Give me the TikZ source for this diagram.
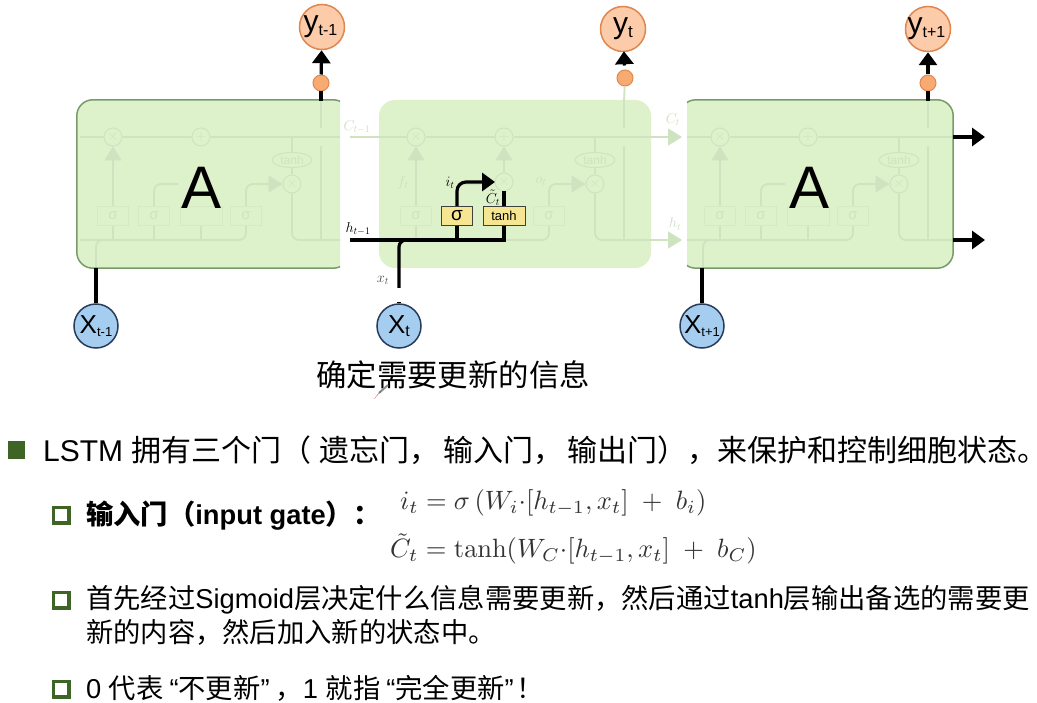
\documentclass[tikz,border=0pt]{standalone}
\usepackage[no-math]{fontspec}
\usepackage{amsmath}
\usepackage{graphicx}
\setmainfont{Liberation Sans}
\newfontfamily\cjk{Noto Sans CJK SC}
\usetikzlibrary{arrows.meta,shapes.geometric}
\definecolor{cellgreen}{RGB}{221,241,203}
\definecolor{celledge}{RGB}{120,155,105}
\definecolor{ghost}{RGB}{206,227,191}
\definecolor{ghosttext}{RGB}{205,222,192}
\definecolor{outorange}{RGB}{251,203,170}
\definecolor{dotorange}{RGB}{248,170,115}
\definecolor{edgeorange}{RGB}{224,135,80}
\definecolor{inblue}{RGB}{165,205,240}
\definecolor{edgeblue}{RGB}{40,60,90}
\definecolor{gateyellow}{RGB}{247,230,145}
\definecolor{bullet}{RGB}{62,100,38}
\tikzset{
  cellbox/.style={fill=cellgreen,rounded corners=16pt,minimum width=#1,minimum height=168pt,inner sep=0pt},
  celledge/.style={draw=celledge,line width=1.5pt,rounded corners=16pt},
  ghostline/.style={draw=ghost,line width=1.8pt,rounded corners=7pt},
  ghostarrow/.style={ghostline,-{Triangle[length=14pt,width=17pt]}},
  ghostdot/.style={circle,draw=ghost,fill=cellgreen,line width=1pt,minimum size=18pt,inner sep=0pt,text=ghost,font=\fontsize{14}{14}\selectfont},
  ghostoval/.style={ellipse,draw=ghost,fill=cellgreen,line width=1pt,minimum width=40pt,minimum height=15pt,inner sep=0pt,text=ghost,font=\fontsize{12}{12}\selectfont},
  ghostbox/.style={draw=ghost!60!cellgreen,fill=cellgreen,line width=1pt,minimum width=31pt,minimum height=19pt,inner sep=0pt,text=ghost,font=\fontsize{15}{15}\selectfont},
  gatebox/.style={draw=black!75,fill=gateyellow,line width=1pt,minimum width=31pt,minimum height=19pt,inner sep=0pt,font=\fontsize{13}{13}\selectfont},
  blackline/.style={draw=black,line width=3.2pt,rounded corners=7pt},
  blackarrow/.style={blackline,-{Triangle[length=13pt,width=18pt]}},
  outcircle/.style={circle,draw=edgeorange,fill=outorange,line width=1.5pt,minimum size=45pt,inner sep=0pt,font=\fontsize{30}{30}\selectfont},
  incircle/.style={circle,draw=edgeblue,fill=inblue,line width=1.5pt,minimum size=44pt,inner sep=0pt,font=\fontsize{26}{26}\selectfont},
  outdot/.style={circle,draw=edgeorange,fill=dotorange,line width=1pt,minimum size=16pt,inner sep=0pt},
  ghostlabel/.style={text=ghosttext,font=\fontsize{14}{14}\selectfont},
  textline/.style={anchor=west,inner sep=0pt,font=\fontsize{27.3}{27.3}\selectfont},
  squarefull/.style={fill=bullet,minimum size=17pt,inner sep=0pt},
  squareopen/.style={draw=bullet,fill=white,line width=3.5pt,minimum size=15.5pt,inner sep=0pt},
}
% inside of one cell, drawn at the place of the left one
\newcommand{\ghostcell}{
  \coordinate (cin) at (80,137);
  \coordinate (cout) at (340,137);
  \coordinate (hin) at (80,240);
  \coordinate (hout) at (340,240);
  \coordinate (xin) at (96,268);
  \coordinate (gateend) at (178,184);
  \coordinate (vlow) at (321,240);
  \coordinate (vgapa) at (321,146);
  \coordinate (vgapb) at (321,128);
  \coordinate (vtop) at (321,101);
  \coordinate (tanhup) at (292,137);
  \node[ghostdot] (mulc) at (113,137) {$\times$};
  \node[ghostdot] (addc) at (201,137) {$+$};
  \node[ghostdot] (mulo) at (292,184) {$\times$};
  \node[ghostoval] (tanho) at (292,160) {tanh};
  \node[ghostbox] (sigf) at (113,216) {σ};
  \node[ghostbox] (sigi) at (154,216) {σ};
  \node[ghostbox,minimum width=42pt] (tanhc) at (201,216) {};
  \node[ghostbox] (sigo) at (246,216) {σ};
  \draw[ghostline] (cin) -- (mulc) -- (addc) -- (cout);
  \draw[ghostline] (hin) -| (sigo.south);
  \draw[ghostarrow] (sigo.north) |- (mulo);
  \draw[ghostarrow] (sigf) -- (mulc);
  \draw[ghostline] (sigf) -- (sigf |- hin);
  \draw[ghostline] (sigi) -- (sigi |- hin);
  \draw[ghostline] (tanhc) -- (tanhc |- hin);
  \draw[ghostline] (sigi.north) |- (gateend);
  \draw[ghostline] (mulo) -- (tanho);
  \draw[ghostline] (tanho) -- (tanhup);
  \draw[ghostline] (mulo) |- (hout);
  \draw[ghostline] (xin) |- (sigf |- hin);
  \draw[ghostline] (vlow) -- (vgapa);
  \draw[ghostline] (vgapb) -- (vtop);
}

\begin{document}
\begin{tikzpicture}[x=1pt,y=-1pt]
  \useasboundingbox (0,0) rectangle (1037,703);

  % middle cell, the one that is explained
  \node[cellbox=272pt] (cellM) at (515,184) {};
  \begin{scope}[xshift=303pt,name prefix=M]
    \ghostcell
  \end{scope}
  \coordinate (cstart) at (350,137);
  \coordinate (cend) at (682,137);
  \coordinate (hend) at (682,240);
  \coordinate (hstart) at (350,240);
  \draw[ghostline] (cstart) -- (Mcin);
  \draw[ghostarrow] (Mcout) -- (cend);
  \draw[ghostarrow] (Mhout) -- (hend);
  \node[ghostdot] (mulM) at (504,182) {$\times$};
  \draw[ghostarrow] (mulM) -- (Maddc);
  \node[gatebox] (sigM) at (457,216) {\fontsize{19}{19}\selectfont σ};
  \node[gatebox,minimum width=42pt] (tanhM) at (504,216) {tanh};
  \coordinate (hjoin) at (504,240);
  \coordinate (tanhtop) at (504,191);
  \coordinate (arrowend) at (495,182);
  \coordinate (xjoin) at (430,240);
  \coordinate (xgapa) at (399,302);
  \coordinate (xgapb) at (399,288);
  \draw[blackline,rounded corners=0pt] (tanhM.south) -- (hjoin) -- (hstart);
  \draw[blackline] (tanhM.north) -- (tanhtop);
  \draw[blackline] (sigM.south) -- (sigM |- hjoin);
  \draw[blackarrow,rounded corners=9pt] (sigM.north) |- (arrowend);
  \node[incircle] (xM) at (399,326) {X\raisebox{-3pt}{\fontsize{16}{16}\selectfont t}};
  \draw[blackline] (xM) -- (xgapa);
  \draw[blackline] (xgapb) |- (xjoin);
  \node[text=black,font=\fontsize{14}{14}\selectfont] (hlabel) at (358,229) {$h_{t-1}$};
  \node[text=black!70,font=\fontsize{14}{14}\selectfont] (xlabel) at (383,280) {$x_t$};
  \node[font=\fontsize{14}{14}\selectfont] (ilabel) at (450,183) {$i_t$};
  \node[font=\fontsize{14}{14}\selectfont] (clabel) at (493,198) {$\tilde{C}_t$};
  \node[ghostlabel] (clast) at (357,127) {$C_{t-1}$};
  \node[ghostlabel] (cnext) at (673,120) {$C_t$};
  \node[ghostlabel] (hnext) at (675,224) {$h_t$};
  \node[ghostlabel] (flabel) at (403,183) {$f_t$};
  \node[ghostlabel] (olabel) at (541,181) {$o_t$};
  \node[outdot] (dotM) at (625,78) {};
  \node[outcircle] (yM) at (623,29) {y\raisebox{-4pt}{\fontsize{17}{17}\selectfont t}};
  \draw[ghostline] (Mvtop) -- (dotM);
  \draw[blackarrow,shorten <=4pt,shorten >=-1pt] (dotM) -- (yM);

  % left cell, its right side is cut off
  \begin{scope}
    \clip (70,90) rectangle (340,280);
    \node[cellbox=272pt] (cellL) at (213,184) {};
  \end{scope}
  \begin{scope}[name prefix=L]
    \ghostcell
  \end{scope}
  \begin{scope}
    \clip (70,90) rectangle (340,280);
    \draw[celledge] (cellL.north west) rectangle (cellL.south east);
  \end{scope}
  \node[font=\fontsize{60}{60}\selectfont] (nameL) at (202,188) {A};
  \node[outdot] (dotL) at (321,83) {};
  \node[outcircle] (yL) at (322,27) {\hspace{-3pt}y\raisebox{-4pt}{\fontsize{16}{16}\selectfont t-1}};
  \node[incircle] (xL) at (96,326) {X\raisebox{-3pt}{\fontsize{13}{13}\selectfont t-1}};
  \draw[blackline] (Lvtop) -- (dotL);
  \draw[blackarrow] (dotL) -- (yL);
  \draw[blackline] (xL) -- (xL |- cellL.south);

  % right cell, its left side is cut off
  \begin{scope}
    \clip (687,90) rectangle (960,280);
    \node[cellbox=273pt] (cellR) at (816.5,184) {};
  \end{scope}
  \begin{scope}[xshift=607pt,name prefix=R]
    \ghostcell
  \end{scope}
  \coordinate (cfree) at (985,137);
  \coordinate (hfree) at (985,240);
  \draw[ghostline] (Rcout) -- (cfree -| cellR.east);
  \draw[ghostline] (Rhout) -- (hfree -| cellR.east);
  \begin{scope}
    \clip (687,90) rectangle (960,280);
    \draw[celledge] (cellR.north west) rectangle (cellR.south east);
  \end{scope}
  \node[font=\fontsize{60}{60}\selectfont] (nameR) at (810,188) {A};
  \node[outdot] (dotR) at (928,83) {};
  \node[outcircle] (yR) at (928,29) {\hspace{-3pt}y\raisebox{-4pt}{\fontsize{16}{16}\selectfont t+1}};
  \node[incircle] (xR) at (702,326) {X\raisebox{-3pt}{\fontsize{13}{13}\selectfont t+1}};
  \draw[blackline] (Rvtop) -- (dotR);
  \draw[blackarrow] (dotR) -- (yR);
  \draw[blackline] (xR) -- (xR |- cellR.south);
  \draw[blackarrow] (cfree -| cellR.east) -- (cfree);
  \draw[blackarrow] (hfree -| cellR.east) -- (hfree);

  % caption and the little pen over it
  \node[font=\fontsize{30.4}{30.4}\selectfont\cjk] (caption) at (453,375) {确定需要更新的信息};
  \draw[black!45,line width=2pt] (388,385) -- (379,393);
  \fill[red!80!black] (381,391) -- (378,394) -- (374,399) -- cycle;

  % text below
  \node[squarefull] (bulletA) at (16,450) {};
  \node[textline,font=\fontsize{30}{30}\selectfont] (lineA) at (43,450) {LSTM {\cjk 拥有三个门（\hspace{8pt}遗忘门，\hspace{4pt}输入门，\hspace{4pt}输出门），来保护和控制细胞状态。\hspace{-15pt}}};
  \node[squareopen] (bulletB) at (61,515) {};
  \node[textline,font=\fontsize{27.3}{27.3}\selectfont\bfseries] (lineB) at (86,516) {{\cjk 输入门（}input gate{\cjk ）：}};
  \node[anchor=west,inner sep=0pt,text=black!80] (formI) at (400,503) {\scalebox{2.65}{$i_t = \sigma\,(W_i{\cdot}[h_{t-1},x_t]\;+\;b_i)$}};
  \node[anchor=west,inner sep=0pt,text=black!80] (formC) at (390,549) {\scalebox{2.65}{$\tilde{C}_t = \tanh(W_C{\cdot}[h_{t-1},x_t]\;+\;b_C)$}};
  \node[squareopen] (bulletC) at (61,600) {};
  \node[textline] (lineC) at (86,600) {{\cjk 首先经过}Sigmoid{\cjk 层决定什么信息需要更新，然后通过}tanh{\cjk 层输出备选的需要更}};
  \node[textline] (lineD) at (86,632) {\cjk 新的内容，然后加入新的状态中。};
  \node[squareopen] (bulletD) at (61,689) {};
  \node[textline] (lineE) at (86,688) {0 {\cjk 代表}\hspace{6pt}“{\cjk 不更新}”\hspace{6pt}{\cjk ，}1 {\cjk 就指}\hspace{6pt}“{\cjk 完全更新}”\hspace{3pt}{\cjk ！}};
\end{tikzpicture}
\end{document}
